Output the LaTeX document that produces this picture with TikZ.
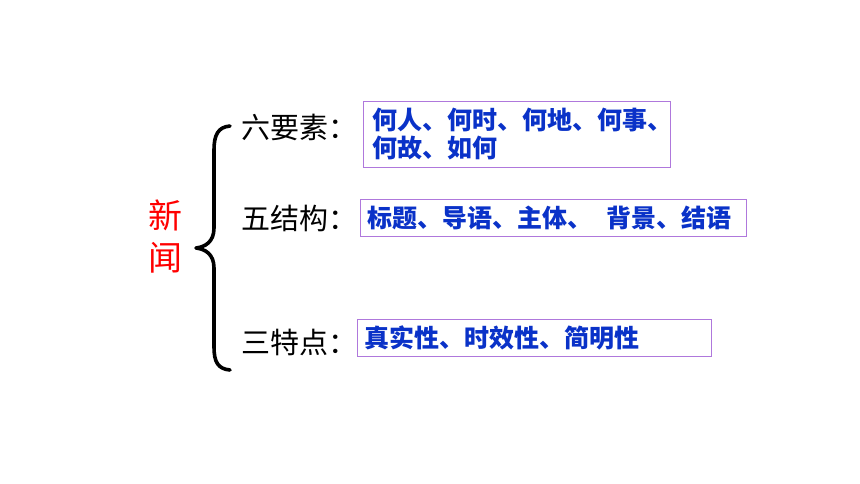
\documentclass[tikz,border=0pt]{standalone}
\usepackage{fontspec}
\newfontfamily\cjk{Noto Sans CJK SC}
\definecolor{txtblue}{RGB}{10,50,200}
\definecolor{boxpurple}{RGB}{175,120,220}
\definecolor{newsred}{RGB}{255,0,0}
\begin{document}
\begin{tikzpicture}[x=1pt,y=-1pt,
  lbl/.style={anchor=west,inner sep=0pt,font=\cjk\fontsize{29}{32}\selectfont,text=black},
  infobox/.style={draw=boxpurple,line width=0.9pt,rectangle,inner ysep=0pt,
     align=left,font=\cjk\bfseries\fontsize{25}{28}\selectfont,text=txtblue},
  bracepath/.style={line width=3.6pt,line cap=round,line join=round}]
\useasboundingbox[fill=white] (0,0) rectangle (860,484);
% title
\node[text=newsred,font=\cjk\fontsize{34}{42}\selectfont,align=center,inner sep=0pt] (news) at (165,237) {新\\闻};
% brace
\draw[bracepath] (230,126) .. controls (218,127) and (214,135) .. (214,150) -- (214,228)
   .. controls (214,242) and (205,247) .. (196,248)
   .. controls (205,249) and (214,254) .. (214,268) -- (214,347)
   .. controls (214,362) and (218,369) .. (230,370);
% labels
\node[lbl] (six) at (241,127) {六要素：};
\node[lbl] (five) at (241,218) {五结构：};
\node[lbl] (three) at (241,342) {三特点：};
% boxes
\node[infobox,inner xsep=9pt,text width=289pt,minimum height=66pt] (b1) at (516.5,134) {何人、何时、何地、何事、\\何故、如何};
\node[infobox,inner xsep=7pt,text width=372pt,minimum height=37pt] (b2) at (553,217.5) {标题、导语、主体、\hspace{14pt}背景、结语};
\node[infobox,inner xsep=7pt,text width=340pt,minimum height=37pt] (b3) at (534,337.5) {真实性、时效性、简明性};
\end{tikzpicture}
\end{document}
